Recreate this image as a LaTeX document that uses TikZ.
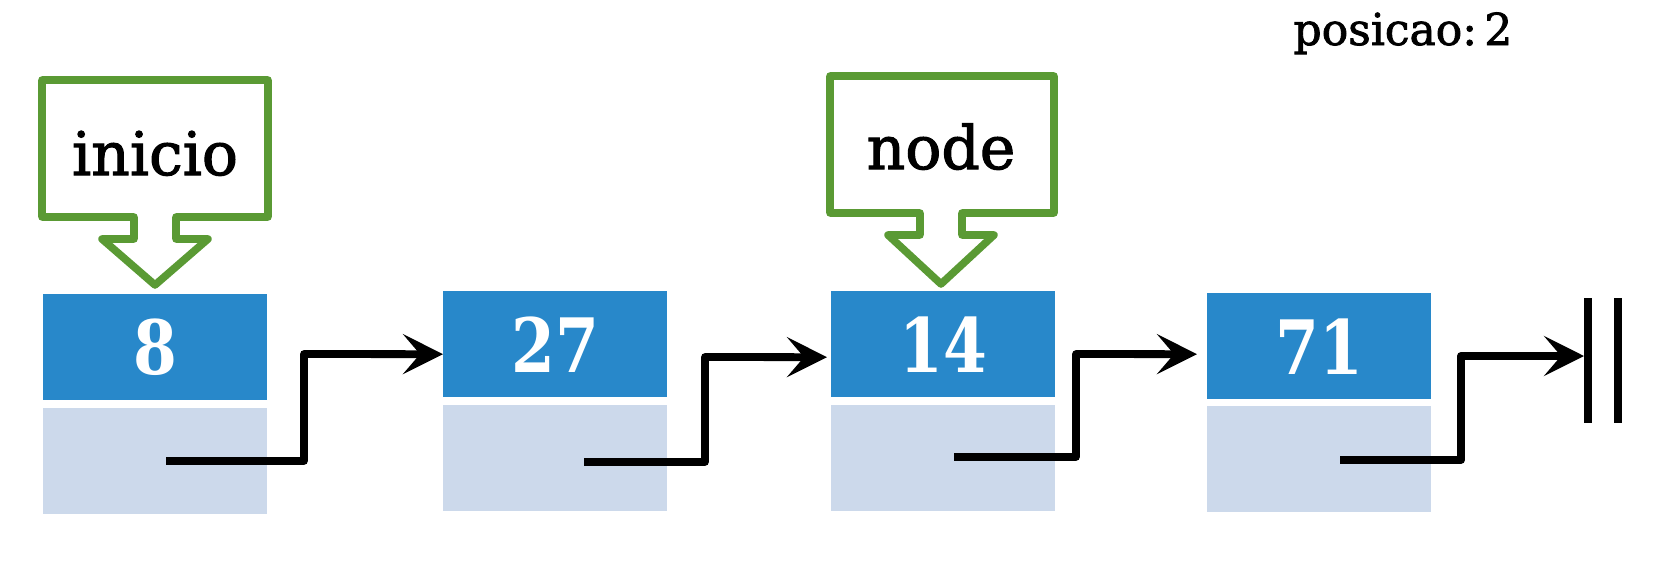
\documentclass[tikz,border=0pt]{standalone}
\usepackage{fontspec}
\setmainfont{DejaVu Serif}
\newfontfamily\labfont[FakeBold=1.8]{DejaVu Serif}
\newfontfamily\numfont[FakeStretch=0.84]{DejaVu Serif}
\usetikzlibrary{arrows.meta}
\definecolor{boxblue}{RGB}{40,136,202}
\definecolor{boxlight}{RGB}{204,217,235}
\definecolor{callgreen}{RGB}{90,154,52}
\begin{document}
\begin{tikzpicture}[x=1pt,y=-1pt,
  datafld/.style={fill=boxblue, inner sep=0pt, minimum width=224pt, minimum height=106pt,
    text=white, anchor=north west, font=\numfont\bfseries\fontsize{75}{80}\selectfont},
  linkfld/.style={fill=boxlight, inner sep=0pt, minimum width=224pt, minimum height=106pt, anchor=north west},
  callout/.style={draw=callgreen, line width=7.6pt, line join=round, fill=white},
  calltext/.style={font=\labfont\fontsize{60}{70}\selectfont, anchor=base, inner sep=0pt},
  link/.style={line width=7.8pt, line join=round, -{Stealth[length=40pt,width=40pt,inset=17pt]}},
  nullbar/.style={line width=8pt}]
\useasboundingbox (0,0) rectangle (1666,570);

% data cells
\node[datafld] (d1) at (43,294) {8};
\node[linkfld] (l1) at (43,408) {};
\node[datafld] (d2) at (443,291) {27};
\node[linkfld] (l2) at (443,405) {};
\node[datafld] (d3) at (831,291) {14};
\node[linkfld] (l3) at (831,405) {};
\node[datafld] (d4) at (1207,293) {71};
\node[linkfld] (l4) at (1207,406) {};

% callouts
\draw[callout] (42,80) -- (268,80) -- (268,217) -- (176,217) -- (176,239) -- (208,239)
  -- (155,285) -- (102,239) -- (134,239) -- (134,217) -- (42,217) -- cycle;
\node[calltext] (inicio) at (155,175) {inicio};
\draw[callout] (830,76) -- (1054,76) -- (1054,213) -- (962,213) -- (962,235) -- (994,235)
  -- (941,284) -- (888,235) -- (920,235) -- (920,213) -- (830,213) -- cycle;
\node[calltext] (nodelbl) at (941,169) {node};

% position label
\node[font=\labfont\fontsize{44}{50}\selectfont, anchor=base, inner sep=0pt] (pos) at (1403,45) {posicao:\,2};

% pointers
\coordinate (s1) at (166,461);
\coordinate (s2) at (584,462);
\coordinate (s3) at (954,457);
\coordinate (s4) at (1340,460);
\coordinate (nil) at (1584,356);
\draw[link] (s1) -- (304,461) -- (304,354) -- ([yshift=-10pt]d2.west);
\draw[link] (s2) -- (705,462) -- (705,357) -- ([xshift=-4pt,yshift=-13pt]d3.west);
\draw[link] (s3) -- (1076,457) -- (1076,354) -- ([xshift=-10pt,yshift=-8pt]d4.west);
\draw[link] (s4) -- (1461,460) -- (1461,356) -- (nil);

% null terminator
\coordinate (na) at (1588,298);
\coordinate (nb) at (1588,423);
\coordinate (nc) at (1618,298);
\coordinate (nd) at (1618,423);
\draw[nullbar] (na) -- (nb);
\draw[nullbar] (nc) -- (nd);
\end{tikzpicture}
\end{document}
